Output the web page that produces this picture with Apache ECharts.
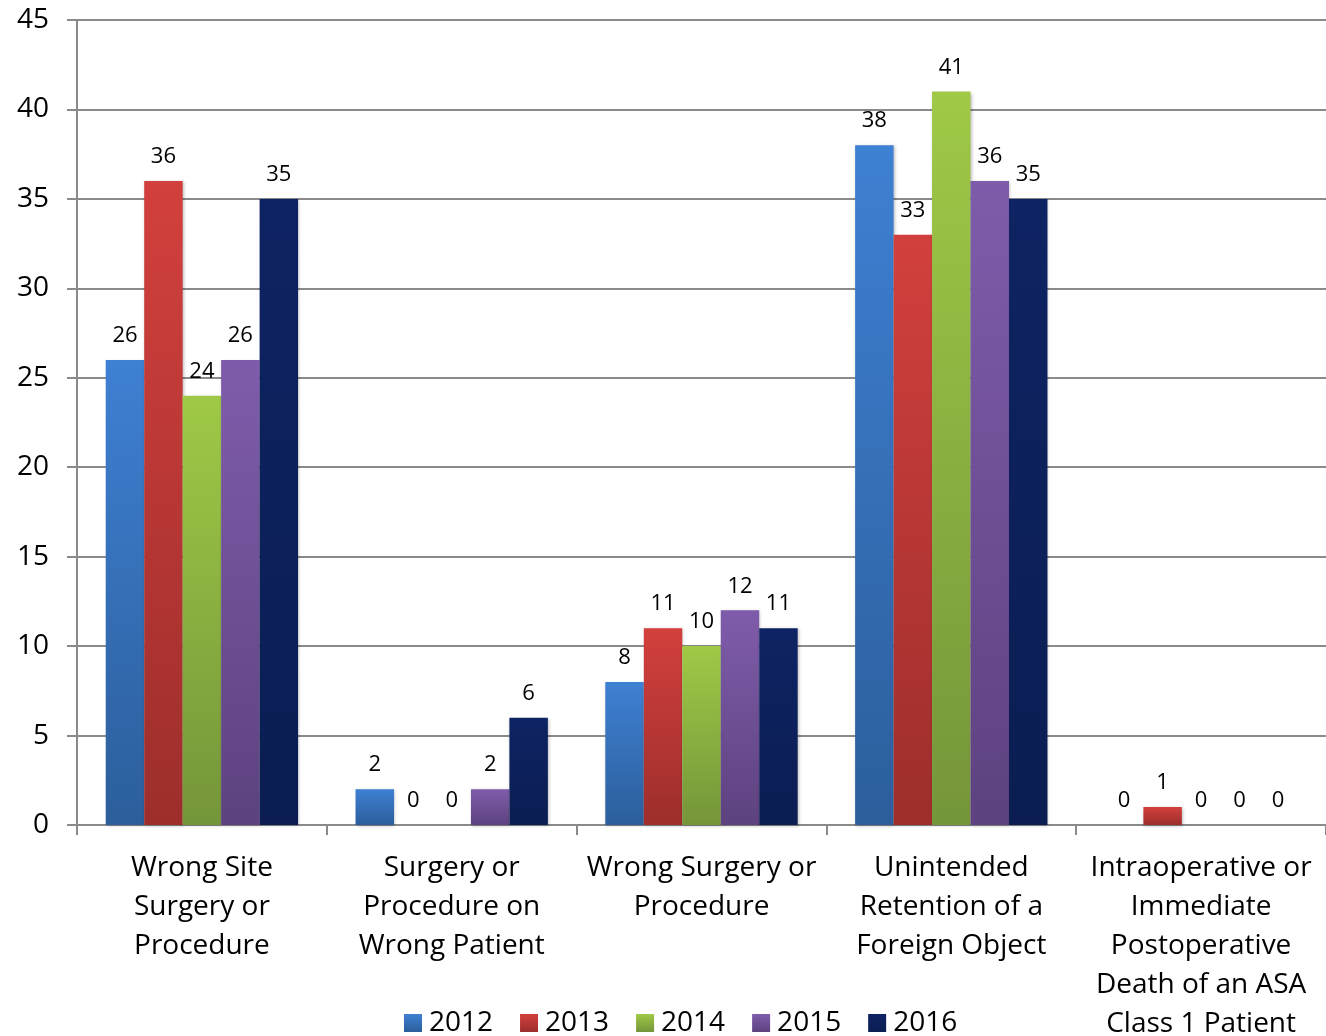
<!DOCTYPE html>
<html>
<head>
<meta charset="utf-8">
<style>
  html, body { margin: 0; padding: 0; background: #fff; }
  #chart { width: 1326px; height: 1036px; }
</style>
<script src="https://cdn.jsdelivr.net/npm/echarts@6/dist/echarts.min.js"></script>
</head>
<body>
<div id="chart"></div>
<script>
// Surgical never-event counts by type, 2012-2016
const categories = [
  'Wrong Site\nSurgery or\nProcedure',
  'Surgery or\nProcedure on\nWrong Patient',
  'Wrong Surgery or\nProcedure',
  'Unintended\nRetention of a\nForeign Object',
  'Intraoperative or\nImmediate\nPostoperative\nDeath of an ASA\nClass 1 Patient'
];
const years = ['2012', '2013', '2014', '2015', '2016'];
const values2012 = [26, 2, 8, 38, 0];
const values2013 = [36, 0, 11, 33, 1];
const values2014 = [24, 0, 10, 41, 0];
const values2015 = [26, 2, 12, 36, 0];
const values2016 = [35, 6, 11, 35, 0];
const yTicks = { min: 0, max: 45, interval: 5 };

const seriesValues = [values2012, values2013, values2014, values2015, values2016];
// top / bottom colours of each bar's vertical gradient
const palette = [
  ['#3E80D3', '#2C5E9B'],
  ['#D2403D', '#9D2E2C'],
  ['#9FC946', '#75953A'],
  ['#7F5CAB', '#5D427F'],
  ['#0E2363', '#0B1D52']
];
const font = '"Open Sans", "Noto Sans", sans-serif';

function grad(c) {
  return new echarts.graphic.LinearGradient(0, 0, 0, 1, [
    { offset: 0, color: c[0] },
    { offset: 1, color: c[1] }
  ]);
}

const chart = echarts.init(document.getElementById('chart'));
chart.setOption({
  animation: false,
  textStyle: { fontFamily: font },
  legend: {
    bottom: -6,
    left: 399,
    itemWidth: 18,
    itemHeight: 18,
    itemGap: 27,
    icon: 'rect',
    textStyle: { fontSize: 28, color: '#000', fontFamily: font, padding: [0, 0, 0, 2] },
    data: years.map((y, i) => ({ name: y, itemStyle: { color: grad(palette[i]) } }))
  },
  grid: { left: 77, right: 0, top: 20, bottom: 211, containLabel: false, outerBoundsMode: 'none' },
  xAxis: {
    type: 'category',
    data: categories,
    axisLine: { lineStyle: { color: '#8a8a8a', width: 2 } },
    axisTick: { show: true, length: 10, alignWithLabel: false, lineStyle: { color: '#8a8a8a', width: 2 } },
    axisLabel: { interval: 0, fontSize: 28, color: '#000', lineHeight: 39, margin: 24, fontFamily: font }
  },
  yAxis: {
    type: 'value',
    min: yTicks.min,
    max: yTicks.max,
    interval: yTicks.interval,
    axisLine: { show: true, lineStyle: { color: '#8a8a8a', width: 2 } },
    axisTick: { show: true, length: 10, lineStyle: { color: '#8a8a8a', width: 2 } },
    splitLine: { lineStyle: { color: '#8a8a8a', width: 2 } },
    axisLabel: { fontSize: 28, color: '#000', margin: 28, fontFamily: font }
  },
  series: seriesValues.map((vals, i) => ({
    name: years[i],
    type: 'bar',
    data: vals,
    barGap: '0%',
    barCategoryGap: '23%',
    itemStyle: {
      color: grad(palette[i]),
      shadowColor: 'rgba(0,0,0,0.25)',
      shadowBlur: 3,
      shadowOffsetX: 1,
      shadowOffsetY: 1
    },
    label: {
      show: true,
      position: 'top',
      distance: 13,
      fontSize: 22,
      color: '#000',
      fontFamily: font
    }
  }))
});
</script>
</body>
</html>
